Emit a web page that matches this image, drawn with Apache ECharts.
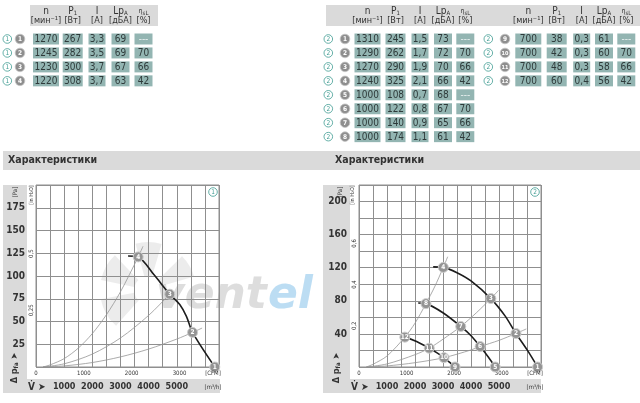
<!DOCTYPE html>
<html>
<head>
<meta charset="utf-8">
<script src="https://cdn.jsdelivr.net/npm/echarts@6/dist/echarts.min.js"></script>
<style>
html, body { margin: 0; padding: 0; background: #fff; }
#main { width: 640px; height: 403px; }
</style>
</head>
<body>
<div id="main"></div>
<script>
// --- table values
const t1N = [1270, 1245, 1230, 1220]
const t1P = [267, 282, 300, 308]
const t1I = ['3,3', '3,5', '3,7', '3,7']
const t1Lp = [69, 69, 67, 63]
const t1Eta = ['---', 70, 66, 42]

const t2N = [1310, 1290, 1270, 1240, 1000, 1000, 1000, 1000, 700, 700, 700, 700]
const t2P = [245, 262, 290, 325, 108, 122, 140, 174, 38, 42, 48, 60]
const t2I = ['1,5', '1,7', '1,9', '2,1', '0,7', '0,8', '0,9', '1,1', '0,3', '0,3', '0,3', '0,4']
const t2Lp = [73, 72, 70, 66, 68, 67, 65, 61, 61, 60, 58, 56]
const t2Eta = ['---', 70, 66, 42, '---', 70, 66, 42, '---', 70, 66, 42]

// --- chart 1 (m3/h, Pa)
const c1Fan = [[3270, 122], [3630, 121], [4200, 101], [4750, 80], [5106, 68.6], [5343, 55.6], [5560, 38], [6350, 0]]
const c1SysA = [[250, 0], [500, 2.3], [1000, 9.2], [1500, 20.7], [2000, 36.7], [2500, 57.4], [3000, 82.6], [3630, 121], [3800, 132.6]]
const c1SysB = [[250, 0], [1000, 3.5], [2000, 14.2], [3000, 31.9], [4000, 56.7], [4750, 80], [4850, 83.4]]
const c1SysC = [[250, 0], [1000, 1.2], [2000, 4.9], [3000, 11.1], [4000, 19.7], [5000, 30.7], [5560, 38], [5900, 42.8]]
const c1Points = [[6350, 0, '1'], [5560, 38, '2'], [4750, 80, '3'], [3630, 121, '4']]

// --- chart 2 (m3/h, Pa)
const c2Fan1240 = [[2650, 121], [3011, 120.4], [3500, 114], [4000, 104], [4709, 82.7], [5222, 61.5], [5605, 40.5], [6000, 21], [6380, 0]]
const c2Fan1000 = [[2115, 77.4], [2391, 76.6], [3011, 65.3], [3634, 49], [4003, 37.7], [4326, 24.7], [4624, 11.8], [4864, 0]]
const c2Fan700 = [[1500, 36.5], [1638, 36.1], [2057, 30.8], [2509, 22.7], [2774, 17.4], [3036, 11.3], [3251, 5.2], [3430, 0]]
const c2SysA = [[265, 0], [500, 3.3], [1000, 13.3], [1638, 36.1], [2000, 53], [2391, 76.6], [2700, 96.8], [3011, 120.4], [3168, 133.3]]
const c2SysB = [[265, 0], [1000, 3.7], [2000, 14.9], [2509, 22.7], [3000, 33.6], [3634, 49], [4200, 65.8], [4709, 82.7], [4982, 92.6]]
const c2SysC = [[265, 0], [1000, 1.3], [2000, 5.2], [3036, 11.3], [4000, 20.6], [4326, 24.7], [5000, 32.2], [5605, 40.5], [5975, 46]]
const c2Points = [[6380, 0, '1'], [5605, 40.5, '2'], [4709, 82.7, '3'], [3011, 120.4, '4'], [4864, 0, '5'], [4326, 24.7, '6'],
  [3634, 49, '7'], [2391, 76.6, '8'], [3430, 0, '9'], [3036, 11.3, '10'], [2509, 22.7, '11'], [1638, 36.1, '12']]

const FONT = "'Liberation Sans Narrow','DejaVu Sans Condensed',sans-serif"
const CFM = 1.69901 // m3/h per CFM
const PA_IN = 249.089 // Pa per in H2O
const GRIDC = '#8f8f8f'
const CELL = '#93b5b2'
const TEAL = '#3f9c92'
const BAND = '#dadada'

const g = []

function txt (x, y, text, o) {
  o = o || {}
  g.push({
    type: 'text', x: x, y: y, z: o.z || 10, rotation: o.rot || 0, scaleX: o.sx || 1,
    style: {
      text: text, fill: o.fill || '#333', fontSize: o.size || 10, fontWeight: o.weight || 'normal',
      fontFamily: o.family || FONT, fontStyle: o.italic ? 'italic' : 'normal', opacity: o.opacity == null ? 1 : o.opacity,
      align: o.align || 'center', verticalAlign: 'middle', rich: o.rich
    }
  })
}
function rect (x, y, w, h, fill, z) {
  g.push({ type: 'rect', z: z == null ? -10 : z, shape: { x: x, y: y, width: w, height: h }, style: { fill: fill } })
}
function tealMark (cx, cy, n) {
  g.push({ type: 'circle', z: 10, shape: { cx: cx, cy: cy, r: 4.3 }, style: { fill: '#fff', stroke: TEAL, lineWidth: 0.8 } })
  txt(cx, cy + 0.3, n, { size: 6.5, fill: TEAL })
}
function grayMark (cx, cy, n) {
  g.push({ type: 'circle', z: 10, shape: { cx: cx, cy: cy, r: 4.8 }, style: { fill: '#8e8e8e', stroke: '#c4c4c4', lineWidth: 0.8 } })
  txt(cx, cy + 0.3, n, { size: n.length > 1 ? 5.5 : 6.5, fill: '#fff', weight: 'bold' })
}

const subRich = {
  b: { fontSize: 10, fill: '#333', fontFamily: FONT },
  s: { fontSize: 6, fill: '#333', fontFamily: FONT, padding: [4, 0, 0, 0] },
  e: { fontSize: 7, fill: '#333', fontFamily: FONT }
}
const colW = [26, 20, 17, 18, 18]

function header (cols) {
  const l1 = ['{b|n}', '{b|P}{s|1}', '{b|I}', '{b|Lp}{s|A}', '{e|η}{s|sL}']
  const l2 = ['[мин⁻¹]', '[Вт]', '[А]', '[дБА]', '[%]']
  cols.forEach((cx, i) => {
    txt(cx, 11, l1[i], { rich: subRich })
    txt(cx, 21, l2[i], { size: 9 })
  })
}
function tableRows (cols, tealX, grayX, teal, idx, row0) {
  idx.forEach((k, j) => {
    const y = 39 + (row0 + j) * 13.95
    tealMark(tealX, y, teal)
    grayMark(grayX, y, String(k + 1))
    const vals = teal === '1'
      ? [t1N[k], t1P[k], t1I[k], t1Lp[k], t1Eta[k]]
      : [t2N[k], t2P[k], t2I[k], t2Lp[k], t2Eta[k]]
    cols.forEach((cx, i) => {
      rect(cx - colW[i] / 2, y - 5.5, colW[i], 11, CELL, 5)
      txt(cx, y + 0.5, String(vals[i]), { size: 10, fill: vals[i] === '---' ? '#e8f0ef' : '#2e3a3a' })
    })
  })
}

// tables
const colsL = [46, 72.7, 97, 120.5, 143.5]
const colsR1 = [367.5, 395.5, 420, 443, 465.3]
const colsR2 = [528.3, 556.7, 581.7, 604, 626.3]
rect(30, 5, 128, 21, BAND)
rect(326, 5, 314, 21, BAND)
header(colsL)
header(colsR1)
header(colsR2)
tableRows(colsL, 7.3, 20, '1', [0, 1, 2, 3], 0)
tableRows(colsR1, 328.3, 345, '2', [0, 1, 2, 3, 4, 5, 6, 7], 0)
tableRows(colsR2, 488.3, 505, '2', [8, 9, 10, 11], 0)

// section band
rect(3, 151, 637, 19, BAND)
txt(8, 160.5, 'Характеристики', { align: 'left', weight: 'bold', size: 10.5 })
txt(335, 160.5, 'Характеристики', { align: 'left', weight: 'bold', size: 10.5 })

// chart frames
function frame (x0, plotR, colW2) {
  rect(x0, 185, colW2, 194, BAND)
  rect(x0, 379, plotR - x0, 14, BAND)
}
frame(3, 220, 24)
frame(323, 541, 27)

const axRich = {
  a: { fontSize: 9, fontWeight: 'bold', fill: '#333', fontFamily: FONT },
  s: { fontSize: 6, fontWeight: 'bold', fill: '#333', fontFamily: FONT, padding: [3, 0, 0, 0] }
}
function chartTexts (ox, plotL, plotR, pX, inX, dX, n) {
  txt(dX, 368, '{a|Δ p}{s|fa} {a|➤}', { rot: Math.PI / 2, rich: axRich })
  txt(pX, 192, '[Pa]', { rot: Math.PI / 2, size: 6 })
  txt(inX, 195, '[in H₂O]', { rot: Math.PI / 2, size: 5.5 })
  txt(plotL - 8, 387, '{a|V̇ ➤}', { align: 'left', rich: { a: { fontSize: 10, fontWeight: 'bold', fill: '#333', fontFamily: FONT } } })
  txt(plotR - 6, 387, '[m³/h]', { size: 6 })
  txt(plotR - 6, 373, '[CFM]', { size: 6 })
  tealMark(plotR - 6, 192, n)
}
chartTexts(0, 36, 219, 15, 31.5, 15, '1')
chartTexts(320, 359, 541, 340, 353, 337, '2')

// watermark
;[[2.3, 2.95], [3.35, 3.95], [4.45, 5.0], [5.5, 6.0]].forEach(a => {
  g.push({ type: 'sector', z: -8, shape: { cx: 148, cy: 290, r0: 14, r: 48, startAngle: a[0], endAngle: a[1] }, style: { fill: '#d9d9d9', opacity: 0.5 } })
})
txt(156, 297, 'vent', { align: 'left', size: 44, weight: 900, italic: true, fill: '#c6c6c6', opacity: 0.6, z: -7, family: 'DejaVu Sans' })
txt(268, 297, 'el', { align: 'left', size: 44, weight: 900, italic: true, fill: '#9fcfee', opacity: 0.7, z: -7, family: 'DejaVu Sans' })

// --- axes
function xAxes (gi) {
  return [{
    gridIndex: gi, type: 'value', position: 'bottom', min: 0, max: 6500, interval: 500,
    axisLine: { show: false, onZero: false }, axisTick: { show: false },
    splitLine: { show: true, lineStyle: { color: GRIDC, width: 1 } },
    axisLabel: {
      margin: 15, fontSize: 9, fontWeight: 'bold', color: '#333', fontFamily: FONT,
      formatter: v => (v > 0 && v < 6000 && v % 1000 === 0) ? String(v) : ''
    }
  }, {
    gridIndex: gi, type: 'value', position: 'bottom', min: 0, max: 6500 / CFM, interval: 1000,
    axisLine: { show: false, onZero: false }, axisTick: { show: false }, splitLine: { show: false },
    axisLabel: {
      margin: 3, fontSize: 6, color: '#333', fontFamily: FONT,
      formatter: v => (Math.abs(v % 1000) < 1e-6 && v < 3500) ? String(Math.round(v)) : ''
    }
  }]
}
function yAxes (gi, max, step, labStep, margin, inStep, inLabels) {
  return [{
    gridIndex: gi, type: 'value', position: 'left', min: 0, max: max, interval: step,
    axisLine: { show: false, onZero: false }, axisTick: { show: false },
    splitLine: { show: true, lineStyle: { color: GRIDC, width: 1 } },
    axisLabel: {
      margin: margin, fontSize: 10, fontWeight: 'bold', color: '#333', fontFamily: FONT,
      formatter: v => (v > 0 && v < max && v % labStep === 0) ? String(v) : ''
    }
  }, {
    gridIndex: gi, type: 'value', position: 'left', min: 0, max: max / PA_IN, interval: inStep,
    axisLine: { show: false, onZero: false }, axisTick: { show: false }, splitLine: { show: false },
    axisLabel: {
      rotate: 90, margin: 2, fontSize: 6, color: '#333', fontFamily: FONT,
      formatter: v => {
        const r = Math.round(v * 100) / 100
        return inLabels.indexOf(r) >= 0 && Math.abs(v - r) < 1e-6 ? String(r).replace('.', ',') : ''
      }
    }
  }]
}

function line (xi, yi, data, sys) {
  return {
    type: 'line', xAxisIndex: xi, yAxisIndex: yi, data: data, smooth: 0.3,
    showSymbol: false, silent: true, z: sys ? 3 : 4,
    lineStyle: sys ? { color: '#959595', width: 0.8 } : { color: '#1c1c1c', width: 1.6 }
  }
}
function marks (xi, yi, pts) {
  return {
    type: 'scatter', xAxisIndex: xi, yAxisIndex: yi, symbolSize: 10, z: 6, silent: true,
    itemStyle: { color: '#949494', borderColor: '#cdcdcd', borderWidth: 1, opacity: 1 },
    label: {
      show: true, position: 'inside', formatter: '{b}', color: '#fff', fontWeight: 'bold',
      fontFamily: FONT, fontSize: 6.5
    },
    data: pts.map(p => ({ name: p[2], value: [p[0], p[1]] }))
  }
}

const option = {
  animation: false,
  backgroundColor: '#fff',
  grid: [
    { left: 36, top: 185, width: 183, height: 182, show: true, borderColor: GRIDC, borderWidth: 1, backgroundColor: 'transparent' },
    { left: 359, top: 185, width: 182, height: 182, show: true, borderColor: GRIDC, borderWidth: 1, backgroundColor: 'transparent' }
  ],
  xAxis: [].concat(xAxes(0), xAxes(1)),
  yAxis: [].concat(
    yAxes(0, 200, 25, 25, 11, 0.25, [0.25, 0.5]),
    yAxes(1, 220, 20, 40, 12, 0.2, [0.2, 0.4, 0.6])
  ),
  graphic: { elements: g },
  series: [
    line(0, 0, c1SysA, true),
    line(0, 0, c1SysB, true),
    line(0, 0, c1SysC, true),
    line(0, 0, c1Fan, false),
    marks(0, 0, c1Points),
    line(2, 2, c2SysA, true),
    line(2, 2, c2SysB, true),
    line(2, 2, c2SysC, true),
    line(2, 2, c2Fan1240, false),
    line(2, 2, c2Fan1000, false),
    line(2, 2, c2Fan700, false),
    marks(2, 2, c2Points)
  ]
}

const myChart = echarts.init(document.getElementById('main'))
myChart.setOption(option)
</script>
</body>
</html>
